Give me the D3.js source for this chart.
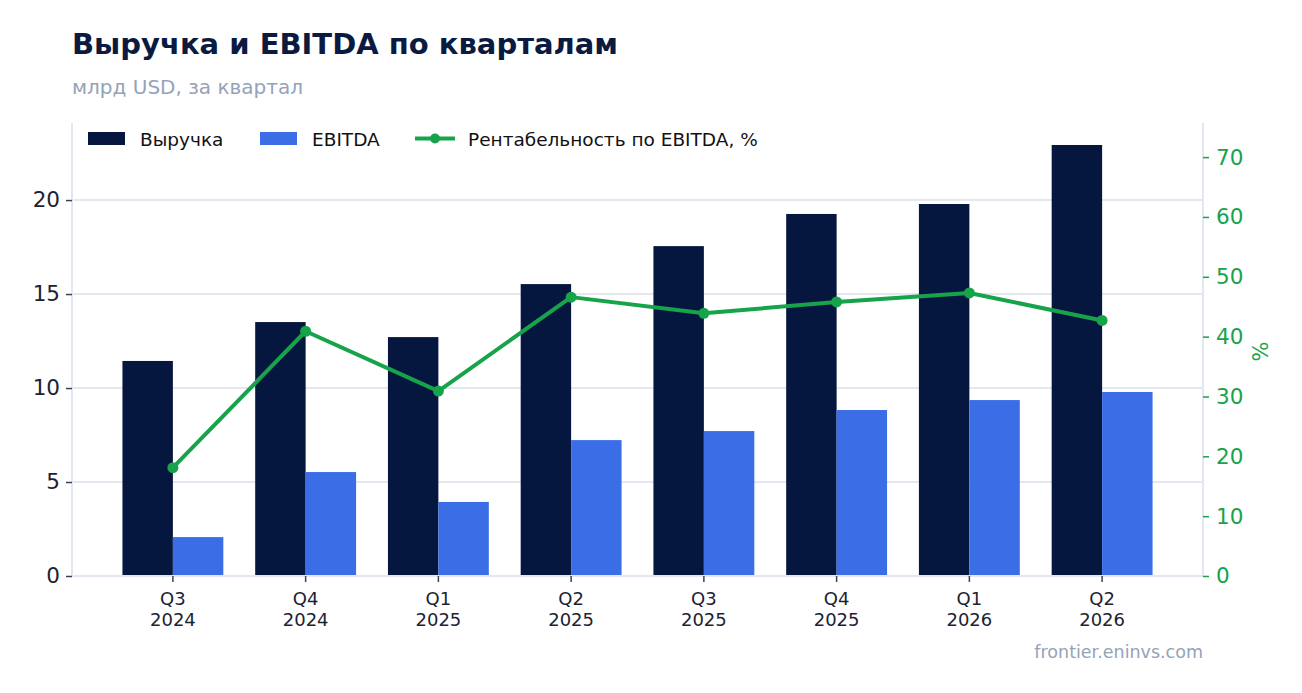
<!DOCTYPE html>
<html lang="ru">
<head>
<meta charset="UTF-8">
<title>Выручка и EBITDA по кварталам</title>
<script src="https://d3js.org/d3.v7.min.js"></script>
<style>
    body { margin: 0; background: #fff; }
    svg { font-family: "DejaVu Sans", sans-serif; display: block; }
    svg text { font-family: "DejaVu Sans", sans-serif; }
</style>
</head>
<body>
<svg id="chart" width="1302" height="693"></svg>
<script>
    // data
    const quarters = ["Q3|2024", "Q4|2024", "Q1|2025", "Q2|2025", "Q3|2025", "Q4|2025", "Q1|2026", "Q2|2026"];
    const revenue = [11.44, 13.51, 12.71, 15.53, 17.55, 19.26, 19.79, 22.93];
    const ebitda = [2.07, 5.53, 3.94, 7.23, 7.71, 8.83, 9.36, 9.79];
    const margin = [18.1, 40.9, 30.9, 46.6, 43.9, 45.8, 47.3, 42.7];
    const leftTicks = [0, 5, 10, 15, 20];
    const rightTicks = [0, 10, 20, 30, 40, 50, 60, 70];

    const cNavy = "#06173f", cBlue = "#3b6de6", cGreen = "#17a34a";
    const cGrid = "#e3e7ef", cText = "#1b2333", cMuted = "#94a3b8";

    const svg = d3.select("#chart");
    const m = {left: 72, right: 1203, top: 123, bottom: 576};

    const x = d3.scaleBand().domain(quarters).range([m.left, m.right])
        .paddingInner(0.24).paddingOuter(0.38);
    const y = d3.scaleLinear().domain([0, 24.1]).range([m.bottom, m.top]);
    const y2 = d3.scaleLinear().domain([0, 75.7]).range([m.bottom, m.top]);

    // title
    svg.append("text").attr("x", 72).attr("y", 54)
        .attr("font-size", 29).attr("font-weight", "bold").attr("fill", "#0b1a40")
        .text("Выручка и EBITDA по кварталам");
    svg.append("text").attr("x", 72).attr("y", 94)
        .attr("font-size", 20).attr("fill", cMuted)
        .text("млрд USD, за квартал");

    // grid
    svg.append("g").selectAll("line").data(leftTicks.filter(d => d > 0)).join("line")
        .attr("x1", m.left).attr("x2", m.right)
        .attr("y1", d => y(d)).attr("y2", d => y(d))
        .attr("stroke", cGrid).attr("stroke-width", 2);

    // bars
    const bw = x.bandwidth() / 2;
    svg.append("g").selectAll("rect").data(revenue).join("rect")
        .attr("x", (d, i) => x(quarters[i]))
        .attr("y", d => y(d)).attr("width", bw).attr("height", d => y(0) - y(d))
        .attr("fill", cNavy);
    svg.append("g").selectAll("rect").data(ebitda).join("rect")
        .attr("x", (d, i) => x(quarters[i]) + bw)
        .attr("y", d => y(d)).attr("width", bw).attr("height", d => y(0) - y(d))
        .attr("fill", cBlue);

    // margin line
    const cx = (d, i) => x(quarters[i]) + bw;
    svg.append("path").datum(margin)
        .attr("d", d3.line().x(cx).y(d => y2(d)))
        .attr("fill", "none").attr("stroke", cGreen).attr("stroke-width", 4)
        .attr("stroke-linejoin", "round");
    svg.append("g").selectAll("circle").data(margin).join("circle")
        .attr("cx", cx).attr("cy", d => y2(d)).attr("r", 5.5).attr("fill", cGreen);

    // axes
    const ga = svg.append("g").attr("transform", `translate(${m.left},0)`)
        .call(d3.axisLeft(y).tickValues(leftTicks).tickSize(6).tickPadding(6));
    ga.attr("font-family", null).attr("font-size", 21.5);
    ga.select(".domain").attr("stroke", cGrid).attr("stroke-width", 2)
        .attr("d", `M0,${m.top}V${m.bottom}`);
    ga.selectAll(".tick line").attr("stroke", "#3a4150").attr("stroke-width", 1.5);
    ga.selectAll(".tick text").attr("fill", cText);

    const gr = svg.append("g").attr("transform", `translate(${m.right},0)`)
        .call(d3.axisRight(y2).tickValues(rightTicks).tickSize(6).tickPadding(7));
    gr.attr("font-family", null).attr("font-size", 21.5);
    gr.select(".domain").attr("stroke", cGrid).attr("stroke-width", 2)
        .attr("d", `M0,${m.top}V${m.bottom}`);
    gr.selectAll(".tick line").attr("stroke", cGreen).attr("stroke-width", 1.5);
    gr.selectAll(".tick text").attr("fill", cGreen);
    svg.append("text")
        .attr("transform", `translate(1268,${(m.top + m.bottom) / 2 + 2}) rotate(-90)`)
        .attr("text-anchor", "middle").attr("font-size", 21).attr("fill", cGreen)
        .text("%");

    const gx = svg.append("g").attr("transform", `translate(0,${m.bottom})`)
        .call(d3.axisBottom(x).tickSize(6).tickPadding(7).tickFormat(""));
    gx.attr("font-family", null).attr("font-size", 18);
    gx.select(".domain").attr("stroke", cGrid).attr("stroke-width", 2)
        .attr("d", `M${m.left},0H${m.right}`);
    gx.selectAll(".tick line").attr("stroke", "#3a4150").attr("stroke-width", 1.5);
    gx.selectAll(".tick").each(function (d) {
        const parts = d.split("|");
        const t = d3.select(this).append("text").attr("text-anchor", "middle").attr("fill", cText);
        t.append("tspan").attr("x", 0).attr("y", 29).text(parts[0]);
        t.append("tspan").attr("x", 0).attr("y", 50).text(parts[1]);
    });
    // ticks sit at the join of the two bars
    gx.selectAll(".tick").attr("transform", d => `translate(${x(d) + bw},0)`);

    // legend
    const lg = svg.append("g").attr("font-size", 18.5).attr("fill", "#111");
    lg.append("rect").attr("x", 88).attr("y", 132).attr("width", 37).attr("height", 13).attr("fill", cNavy);
    lg.append("text").attr("x", 140).attr("y", 145.5).text("Выручка");
    lg.append("rect").attr("x", 260).attr("y", 132).attr("width", 37).attr("height", 13).attr("fill", cBlue);
    lg.append("text").attr("x", 312).attr("y", 145.5).text("EBITDA");
    lg.append("line").attr("x1", 415).attr("x2", 455).attr("y1", 138.5).attr("y2", 138.5)
        .attr("stroke", cGreen).attr("stroke-width", 4);
    lg.append("circle").attr("cx", 435).attr("cy", 138.5).attr("r", 5).attr("fill", cGreen);
    lg.append("text").attr("x", 468).attr("y", 145.5).text("Рентабельность по EBITDA, %");

    // footer
    svg.append("text").attr("x", 1203).attr("y", 658).attr("text-anchor", "end")
        .attr("font-size", 17.5).attr("fill", cMuted).text("frontier.eninvs.com");
</script>
</body>
</html>
